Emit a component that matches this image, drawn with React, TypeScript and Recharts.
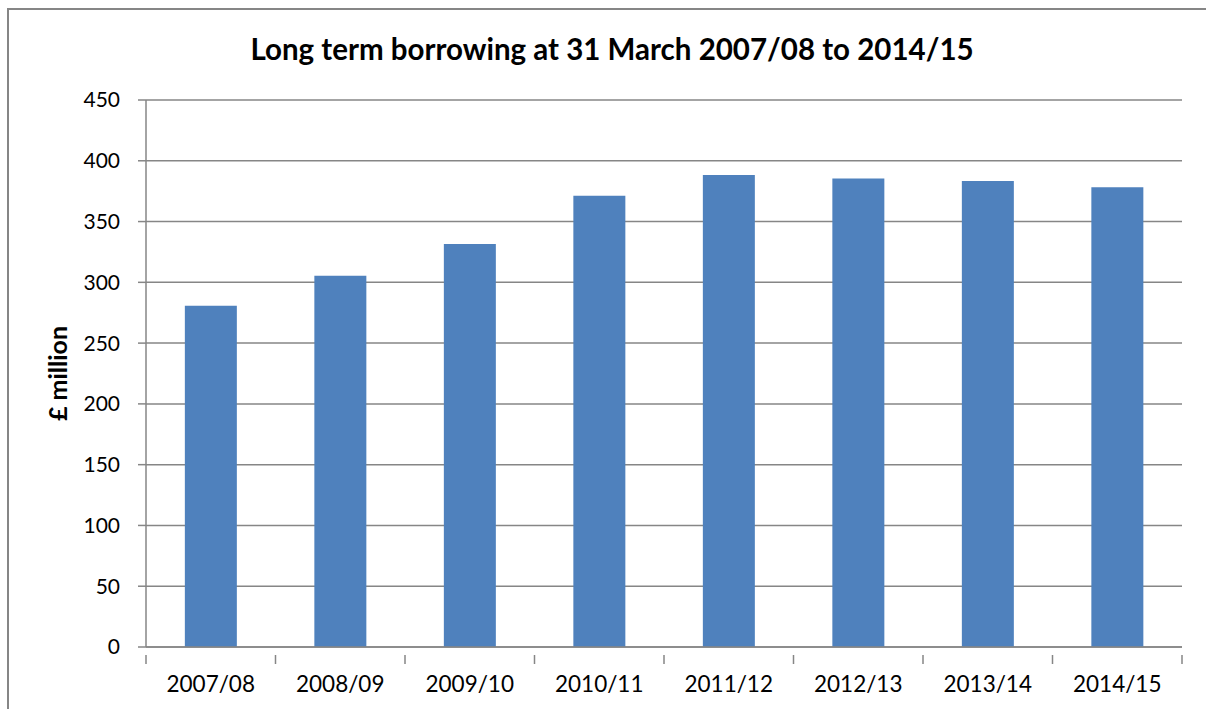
import React from 'react';
import { BarChart, Bar, XAxis, YAxis, CartesianGrid } from 'recharts';

const years = ['2007/08', '2008/09', '2009/10', '2010/11', '2011/12', '2012/13', '2013/14', '2014/15'];
const borrowing = [280.8, 305.5, 331.5, 371.2, 388.4, 385.4, 383.3, 378.3];
const yTicks = [0, 50, 100, 150, 200, 250, 300, 350, 400, 450];

const chartData = years.map((year, i) => ({ year, value: borrowing[i] }));

const FONT = 'Lato, "Open Sans", sans-serif';
const AXIS_GREY = '#868686';

// category axis: label at the centre, tick marks on the category boundaries
const YearTick = (props: any) => {
    const { x, y, payload, index, width, visibleTicksCount } = props;
    const half = width / visibleTicksCount / 2;
    const isLast = index === visibleTicksCount - 1;
    return (
        <g>
            <line x1={x - half} x2={x - half} y1={y} y2={y + 9} stroke={AXIS_GREY} strokeWidth={1.5} />
            {isLast && <line x1={x + half} x2={x + half} y1={y} y2={y + 9} stroke={AXIS_GREY} strokeWidth={1.5} />}
            <text x={x} y={y + 37} textAnchor="middle" fontSize={22.5} fill="#000" fontFamily={FONT}>
                {payload.value}
            </text>
        </g>
    );
};

const YAxisTitle = (props: any) => {
    const { viewBox } = props;
    const cx = viewBox.x + 50;
    const cy = viewBox.y + viewBox.height / 2;
    return (
        <text x={cx} y={cy} transform={`rotate(-90, ${cx}, ${cy})`} textAnchor="middle" dominantBaseline="central"
            fontSize={25} fontWeight="bold" fill="#000" fontFamily={FONT}>
            £ million
        </text>
    );
};

const App: React.FC = () => {
    return (
        <div style={{ position: 'absolute', left: 7, top: 8, width: 1199, height: 701, borderLeft: `2px solid ${AXIS_GREY}`, borderTop: `2px solid ${AXIS_GREY}`, boxSizing: 'border-box', background: '#fff', overflow: 'hidden' }}>
            <div style={{ position: 'absolute', left: 0, width: 1206, top: 21, textAlign: 'center', fontFamily: FONT, fontWeight: 'bold', fontSize: 29.5, color: '#000' }}>
                Long term borrowing at 31 March 2007/08 to 2014/15
            </div>
            <div style={{ position: 'absolute', left: -2, top: -2 }}>
                <BarChart width={1199} height={701} data={chartData} barCategoryGap="30%"
                    margin={{ top: 92, right: 24, bottom: 0, left: 0 }}>
                    <CartesianGrid vertical={false} stroke={AXIS_GREY} strokeWidth={1.5} />
                    <XAxis dataKey="year" height={62} axisLine={{ stroke: AXIS_GREY, strokeWidth: 1.5 }} tickLine={false}
                        tick={<YearTick />} interval={0} />
                    <YAxis width={139} domain={[0, 450]} ticks={yTicks} interval={0}
                        axisLine={{ stroke: AXIS_GREY, strokeWidth: 1.5 }} tickLine={{ stroke: AXIS_GREY, strokeWidth: 1.5 }}
                        tickSize={8} tickMargin={18}
                        tick={{ fontSize: 21, fill: '#000', fontFamily: FONT }}
                        label={<YAxisTitle />} />
                    <Bar dataKey="value" fill="#4F81BD" isAnimationActive={false} />
                </BarChart>
            </div>
        </div>
    );
};

export default App;
